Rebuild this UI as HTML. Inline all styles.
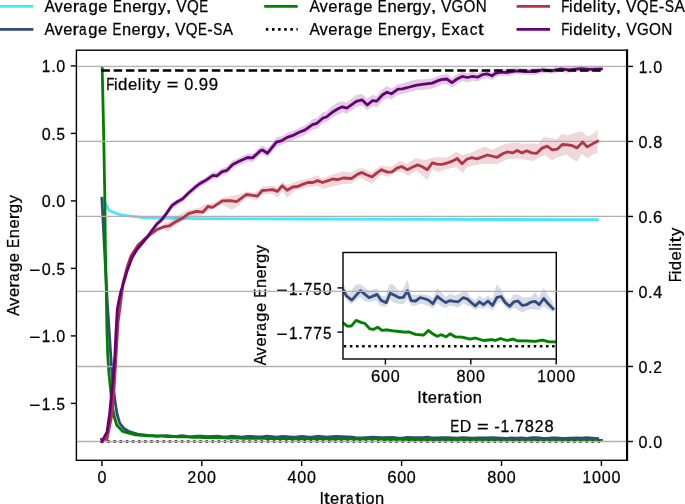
<!DOCTYPE html>
<html><head><meta charset="utf-8"><style>
html,body{margin:0;padding:0;background:#fff;width:685px;height:504px;overflow:hidden}
svg{display:block;will-change:transform}
text{font-family:"Liberation Sans",sans-serif;font-kerning:none;stroke:#000;stroke-width:0.25px}
</style></head><body>
<svg width="685" height="504" viewBox="0 0 685 504">
<rect width="685" height="504" fill="#fff"/>
<line x1="0" y1="6.3" x2="33.4" y2="6.3" stroke="#45e6ff" stroke-width="2.8"/>
<line x1="0" y1="29.4" x2="33.4" y2="29.4" stroke="#324a7d" stroke-width="2.8"/>
<line x1="264.2" y1="6.3" x2="297.7" y2="6.3" stroke="#008000" stroke-width="2.8"/>
<line x1="265.85" y1="29.4" x2="297.7" y2="29.4" stroke="#000" stroke-width="2.6" stroke-dasharray="2.5 3.629"/>
<line x1="516.6" y1="6.3" x2="550.0" y2="6.3" stroke="#b03546" stroke-width="2.8"/>
<line x1="516.6" y1="29.4" x2="550.0" y2="29.4" stroke="#670074" stroke-width="2.8"/>
<g style="font-size:16.31px" fill="#000"><text transform="translate(49.74,12.00) scale(0.951,1)" x="-5.44">A</text><text transform="translate(58.66,12.00) scale(1.018,1)" x="-4.08">v</text><text transform="translate(67.96,12.00) scale(1.019,1)" x="-4.52">e</text><text transform="translate(76.54,12.00) scale(1.209,1)" x="-3.12">r</text><text transform="translate(83.48,12.00) scale(0.849,1)" x="-4.88">a</text><text transform="translate(93.05,12.00) scale(1.026,1)" x="-4.35">g</text><text transform="translate(102.95,12.00) scale(1.019,1)" x="-4.52">e</text><text transform="translate(117.69,12.00) scale(0.818,1)" x="-5.76">E</text><text transform="translate(127.21,12.00) scale(1.018,1)" x="-4.55">n</text><text transform="translate(136.79,12.00) scale(1.019,1)" x="-4.52">e</text><text transform="translate(145.37,12.00) scale(1.209,1)" x="-3.12">r</text><text transform="translate(152.17,12.00) scale(1.026,1)" x="-4.35">g</text><text transform="translate(161.89,12.00) scale(1.013,1)" x="-4.08">y</text><text transform="translate(168.73,12.00) scale(1.376,1)" x="-2.27">,</text><text transform="translate(181.48,12.00) scale(0.958,1)" x="-5.44">V</text><text transform="translate(192.81,12.00) scale(0.933,1)" x="-6.34">Q</text><text transform="translate(203.99,12.00) scale(0.818,1)" x="-5.76">E</text></g>
<g style="font-size:16.18px" fill="#000"><text transform="translate(49.70,35.00) scale(0.951,1)" x="-5.40">A</text><text transform="translate(58.55,35.00) scale(1.018,1)" x="-4.04">v</text><text transform="translate(67.78,35.00) scale(1.019,1)" x="-4.48">e</text><text transform="translate(76.29,35.00) scale(1.209,1)" x="-3.10">r</text><text transform="translate(83.18,35.00) scale(0.849,1)" x="-4.84">a</text><text transform="translate(92.67,35.00) scale(1.026,1)" x="-4.32">g</text><text transform="translate(102.50,35.00) scale(1.019,1)" x="-4.48">e</text><text transform="translate(117.11,35.00) scale(0.818,1)" x="-5.71">E</text><text transform="translate(126.56,35.00) scale(1.018,1)" x="-4.51">n</text><text transform="translate(136.07,35.00) scale(1.019,1)" x="-4.48">e</text><text transform="translate(144.58,35.00) scale(1.209,1)" x="-3.10">r</text><text transform="translate(151.33,35.00) scale(1.026,1)" x="-4.32">g</text><text transform="translate(160.97,35.00) scale(1.013,1)" x="-4.05">y</text><text transform="translate(167.75,35.00) scale(1.376,1)" x="-2.25">,</text><text transform="translate(180.41,35.00) scale(0.958,1)" x="-5.40">V</text><text transform="translate(191.64,35.00) scale(0.933,1)" x="-6.29">Q</text><text transform="translate(202.74,35.00) scale(0.818,1)" x="-5.71">E</text><text transform="translate(210.05,35.00) scale(1.017,1)" x="-2.69">-</text><text transform="translate(217.73,35.00) scale(0.841,1)" x="-5.39">S</text><text transform="translate(228.00,35.00) scale(0.951,1)" x="-5.40">A</text></g>
<g style="font-size:16.29px" fill="#000"><text transform="translate(314.63,12.00) scale(0.951,1)" x="-5.43">A</text><text transform="translate(323.54,12.00) scale(1.018,1)" x="-4.07">v</text><text transform="translate(332.84,12.00) scale(1.019,1)" x="-4.51">e</text><text transform="translate(341.41,12.00) scale(1.209,1)" x="-3.12">r</text><text transform="translate(348.34,12.00) scale(0.849,1)" x="-4.88">a</text><text transform="translate(357.89,12.00) scale(1.026,1)" x="-4.35">g</text><text transform="translate(367.79,12.00) scale(1.019,1)" x="-4.51">e</text><text transform="translate(382.51,12.00) scale(0.818,1)" x="-5.75">E</text><text transform="translate(392.02,12.00) scale(1.018,1)" x="-4.54">n</text><text transform="translate(401.59,12.00) scale(1.019,1)" x="-4.51">e</text><text transform="translate(410.16,12.00) scale(1.209,1)" x="-3.12">r</text><text transform="translate(416.96,12.00) scale(1.026,1)" x="-4.35">g</text><text transform="translate(426.66,12.00) scale(1.013,1)" x="-4.08">y</text><text transform="translate(433.49,12.00) scale(1.376,1)" x="-2.26">,</text><text transform="translate(446.24,12.00) scale(0.958,1)" x="-5.43">V</text><text transform="translate(457.26,12.00) scale(0.920,1)" x="-6.14">G</text><text transform="translate(469.46,12.00) scale(0.933,1)" x="-6.33">O</text><text transform="translate(481.26,12.00) scale(0.932,1)" x="-5.89">N</text></g>
<g style="font-size:16.31px" fill="#000"><text transform="translate(314.64,35.00) scale(0.951,1)" x="-5.44">A</text><text transform="translate(323.57,35.00) scale(1.018,1)" x="-4.08">v</text><text transform="translate(332.87,35.00) scale(1.019,1)" x="-4.52">e</text><text transform="translate(341.46,35.00) scale(1.209,1)" x="-3.12">r</text><text transform="translate(348.41,35.00) scale(0.849,1)" x="-4.88">a</text><text transform="translate(357.97,35.00) scale(1.026,1)" x="-4.35">g</text><text transform="translate(367.88,35.00) scale(1.019,1)" x="-4.52">e</text><text transform="translate(382.63,35.00) scale(0.818,1)" x="-5.76">E</text><text transform="translate(392.15,35.00) scale(1.018,1)" x="-4.55">n</text><text transform="translate(401.74,35.00) scale(1.019,1)" x="-4.52">e</text><text transform="translate(410.32,35.00) scale(1.209,1)" x="-3.12">r</text><text transform="translate(417.13,35.00) scale(1.026,1)" x="-4.35">g</text><text transform="translate(426.85,35.00) scale(1.013,1)" x="-4.08">y</text><text transform="translate(433.69,35.00) scale(1.376,1)" x="-2.27">,</text><text transform="translate(446.32,35.00) scale(0.818,1)" x="-5.76">E</text><text transform="translate(455.45,35.00) scale(1.047,1)" x="-4.08">x</text><text transform="translate(464.51,35.00) scale(0.849,1)" x="-4.88">a</text><text transform="translate(473.65,35.00) scale(0.947,1)" x="-4.21">c</text><text transform="translate(480.97,35.00) scale(1.261,1)" x="-2.33">t</text></g>
<g style="font-size:16.42px" fill="#000"><text transform="translate(565.65,12.00) scale(0.809,1)" x="-5.36">F</text><text transform="translate(570.82,12.00) scale(0.965,1)" x="-1.82">i</text><text transform="translate(577.61,12.00) scale(1.026,1)" x="-4.38">d</text><text transform="translate(587.59,12.00) scale(1.019,1)" x="-4.55">e</text><text transform="translate(594.50,12.00) scale(0.965,1)" x="-1.83">l</text><text transform="translate(598.80,12.00) scale(0.965,1)" x="-1.82">i</text><text transform="translate(604.01,12.00) scale(1.261,1)" x="-2.35">t</text><text transform="translate(611.61,12.00) scale(1.013,1)" x="-4.11">y</text><text transform="translate(618.50,12.00) scale(1.376,1)" x="-2.28">,</text><text transform="translate(631.35,12.00) scale(0.958,1)" x="-5.48">V</text><text transform="translate(642.75,12.00) scale(0.933,1)" x="-6.38">Q</text><text transform="translate(654.01,12.00) scale(0.818,1)" x="-5.80">E</text><text transform="translate(661.44,12.00) scale(1.017,1)" x="-2.73">-</text><text transform="translate(669.23,12.00) scale(0.841,1)" x="-5.47">S</text><text transform="translate(679.65,12.00) scale(0.951,1)" x="-5.48">A</text></g>
<g style="font-size:16.45px" fill="#000"><text transform="translate(565.65,35.00) scale(0.809,1)" x="-5.37">F</text><text transform="translate(570.83,35.00) scale(0.965,1)" x="-1.82">i</text><text transform="translate(577.64,35.00) scale(1.026,1)" x="-4.39">d</text><text transform="translate(587.63,35.00) scale(1.019,1)" x="-4.56">e</text><text transform="translate(594.55,35.00) scale(0.965,1)" x="-1.83">l</text><text transform="translate(598.86,35.00) scale(0.965,1)" x="-1.82">i</text><text transform="translate(604.08,35.00) scale(1.261,1)" x="-2.35">t</text><text transform="translate(611.69,35.00) scale(1.013,1)" x="-4.12">y</text><text transform="translate(618.59,35.00) scale(1.376,1)" x="-2.28">,</text><text transform="translate(631.46,35.00) scale(0.958,1)" x="-5.48">V</text><text transform="translate(642.58,35.00) scale(0.920,1)" x="-6.20">G</text><text transform="translate(654.90,35.00) scale(0.933,1)" x="-6.39">O</text><text transform="translate(666.82,35.00) scale(0.932,1)" x="-5.94">N</text></g>
<path d="M102.30,199.20 L104.50,201.20 L106.10,204.30 L107.50,207.50 L108.80,209.60 L110.80,210.90 L113.10,211.80 L117.50,213.50 L121.90,214.50 L126.30,215.30 L135.00,216.40 L143.80,217.30 L160.00,217.90 L200.00,218.30 L300.00,218.70 L450.00,219.10 L597.40,219.30 L597.40,219.90 L450.00,219.70 L300.00,219.30 L200.00,218.90 L160.00,218.50 L143.80,217.90 L135.00,217.00 L126.30,215.90 L121.90,215.10 L117.50,214.10 L113.10,212.40 L110.80,211.50 L108.80,210.20 L107.50,208.10 L106.10,204.90 L104.50,201.80 L102.30,199.80Z" fill="#45e6ff" fill-opacity="0.2" stroke="none"/>
<path d="M102.30,199.50 L104.50,201.50 L106.10,204.60 L107.50,207.80 L108.80,209.90 L110.80,211.20 L113.10,212.10 L117.50,213.80 L121.90,214.80 L126.30,215.60 L135.00,216.70 L143.80,217.60 L160.00,218.20 L200.00,218.60 L300.00,219.00 L450.00,219.40 L597.40,219.60" fill="none" stroke="#45e6ff" stroke-width="2.8" stroke-linejoin="round" stroke-linecap="square" />
<path d="M101.90,197.90 L106.90,295.60 L111.90,372.60 L113.70,390.30 L116.10,408.20 L117.30,414.60 L119.80,422.90 L124.00,428.10 L129.20,431.30 L137.50,433.80 L147.90,435.00 L152.00,435.29 L157.00,435.91 L162.00,435.57 L167.00,435.18 L172.00,436.09 L177.00,435.98 L182.00,435.29 L187.00,435.95 L192.00,436.24 L197.00,435.71 L202.00,435.63 L207.00,436.36 L212.00,436.12 L217.00,435.78 L222.00,436.24 L227.00,436.42 L232.00,435.85 L237.00,436.23 L242.00,436.71 L247.00,436.09 L252.00,436.03 L257.00,436.48 L262.00,436.60 L267.00,435.80 L272.00,436.26 L277.00,436.63 L282.00,436.00 L287.00,436.18 L292.00,436.68 L297.00,436.42 L302.00,435.97 L307.00,436.55 L312.00,436.72 L317.00,435.87 L322.00,436.15 L327.00,436.76 L332.00,436.32 L337.00,436.01 L352.70,436.73 L355.63,437.14 L362.30,437.48 L372.36,436.76 L382.42,437.30 L392.01,437.05 L396.69,437.51 L402.54,437.67 L407.21,436.95 L414.00,437.18 L417.86,437.30 L422.66,437.27 L427.34,436.77 L431.66,437.52 L436.93,437.55 L442.19,437.30 L446.99,437.36 L452.25,437.49 L457.05,437.76 L462.31,437.21 L467.58,437.46 L472.37,437.67 L477.17,437.52 L481.96,437.58 L486.76,437.61 L492.49,437.30 L497.29,437.39 L502.08,437.67 L506.76,437.92 L511.56,437.61 L516.36,437.83 L521.62,437.55 L526.88,437.89 L532.15,437.27 L536.94,437.21 L541.86,437.67 L547.12,437.96 L551.92,437.61 L556.60,437.55 L561.86,437.89 L566.66,437.83 L571.45,437.64 L576.72,437.58 L581.51,437.83 L586.78,437.36 L592.04,437.76 L597.77,438.15 L597.77,438.95 L592.04,438.56 L586.78,438.16 L581.51,438.63 L576.72,438.38 L571.45,438.44 L566.66,438.63 L561.86,438.69 L556.60,438.35 L551.92,438.41 L547.12,438.76 L541.86,438.47 L536.94,438.01 L532.15,438.07 L526.88,438.69 L521.62,438.35 L516.36,438.63 L511.56,438.41 L506.76,438.72 L502.08,438.47 L497.29,438.19 L492.49,438.10 L486.76,438.41 L481.96,438.38 L477.17,438.32 L472.37,438.47 L467.58,438.26 L462.31,438.01 L457.05,438.56 L452.25,438.29 L446.99,438.16 L442.19,438.10 L436.93,438.35 L431.66,438.32 L427.34,437.57 L422.66,438.07 L417.86,438.10 L414.00,437.98 L407.21,437.75 L402.54,438.47 L396.69,438.31 L392.01,437.85 L382.42,438.10 L372.36,437.56 L362.30,438.28 L355.63,437.94 L352.70,437.53 L337.00,436.81 L332.00,437.12 L327.00,437.56 L322.00,436.95 L317.00,436.67 L312.00,437.52 L307.00,437.35 L302.00,436.77 L297.00,437.22 L292.00,437.48 L287.00,436.98 L282.00,436.80 L277.00,437.43 L272.00,437.06 L267.00,436.60 L262.00,437.40 L257.00,437.28 L252.00,436.83 L247.00,436.89 L242.00,437.51 L237.00,437.03 L232.00,436.65 L227.00,437.22 L222.00,437.04 L217.00,436.58 L212.00,436.92 L207.00,437.16 L202.00,436.43 L197.00,436.51 L192.00,437.04 L187.00,436.75 L182.00,436.09 L177.00,436.78 L172.00,436.89 L167.00,435.98 L162.00,436.37 L157.00,436.71 L152.00,436.09 L147.90,435.80 L137.50,434.60 L129.20,432.10 L124.00,428.90 L119.80,423.70 L117.30,415.40 L116.10,409.00 L113.70,391.10 L111.90,373.40 L106.90,296.40 L101.90,198.70Z" fill="#324a7d" fill-opacity="0.2" stroke="none"/>
<path d="M101.90,198.30 L106.90,296.00 L111.90,373.00 L113.70,390.70 L116.10,408.60 L117.30,415.00 L119.80,423.30 L124.00,428.50 L129.20,431.70 L137.50,434.20 L147.90,435.40 L152.00,435.69 L157.00,436.31 L162.00,435.97 L167.00,435.58 L172.00,436.49 L177.00,436.38 L182.00,435.69 L187.00,436.35 L192.00,436.64 L197.00,436.11 L202.00,436.03 L207.00,436.76 L212.00,436.52 L217.00,436.18 L222.00,436.64 L227.00,436.82 L232.00,436.25 L237.00,436.63 L242.00,437.11 L247.00,436.49 L252.00,436.43 L257.00,436.88 L262.00,437.00 L267.00,436.20 L272.00,436.66 L277.00,437.03 L282.00,436.40 L287.00,436.58 L292.00,437.08 L297.00,436.82 L302.00,436.37 L307.00,436.95 L312.00,437.12 L317.00,436.27 L322.00,436.55 L327.00,437.16 L332.00,436.72 L337.00,436.41 L352.70,437.13 L355.63,437.54 L362.30,437.88 L372.36,437.16 L382.42,437.70 L392.01,437.45 L396.69,437.91 L402.54,438.07 L407.21,437.35 L414.00,437.58 L417.86,437.70 L422.66,437.67 L427.34,437.17 L431.66,437.92 L436.93,437.95 L442.19,437.70 L446.99,437.76 L452.25,437.89 L457.05,438.16 L462.31,437.61 L467.58,437.86 L472.37,438.07 L477.17,437.92 L481.96,437.98 L486.76,438.01 L492.49,437.70 L497.29,437.79 L502.08,438.07 L506.76,438.32 L511.56,438.01 L516.36,438.23 L521.62,437.95 L526.88,438.29 L532.15,437.67 L536.94,437.61 L541.86,438.07 L547.12,438.36 L551.92,438.01 L556.60,437.95 L561.86,438.29 L566.66,438.23 L571.45,438.04 L576.72,437.98 L581.51,438.23 L586.78,437.76 L592.04,438.16 L597.77,438.55" fill="none" stroke="#324a7d" stroke-width="2.8" stroke-linejoin="round" stroke-linecap="square" />
<path d="M102.20,68.20 L103.50,125.70 L104.70,189.70 L105.40,249.70 L106.30,289.70 L106.90,329.50 L107.70,354.70 L108.90,372.60 L110.70,390.40 L112.20,405.70 L114.50,417.20 L116.70,424.70 L122.50,431.00 L128.00,432.60 L135.40,434.50 L147.90,435.50 L152.00,435.53 L157.00,435.62 L162.00,435.66 L167.00,436.25 L172.00,435.96 L177.00,436.49 L182.00,436.55 L187.00,436.50 L192.00,437.06 L197.00,436.72 L202.00,437.18 L207.00,437.23 L212.00,437.11 L217.00,437.65 L222.00,437.28 L227.00,437.68 L232.00,437.73 L237.00,437.56 L242.00,438.08 L247.00,437.69 L252.00,438.05 L257.00,438.10 L262.00,437.88 L267.00,438.39 L272.00,438.00 L277.00,438.31 L282.00,438.38 L287.00,438.12 L292.00,438.62 L297.00,438.22 L302.00,438.50 L307.00,438.59 L312.00,438.29 L317.00,438.79 L322.00,438.39 L327.00,438.63 L332.00,438.74 L337.00,438.41 L352.59,438.60 L356.91,438.82 L361.59,438.82 L367.33,438.38 L372.94,438.53 L377.62,438.62 L383.23,439.02 L387.91,439.06 L392.59,438.90 L397.39,439.15 L403.00,439.11 L410.49,439.18 L417.98,439.23 L423.59,439.28 L429.32,439.27 L436.81,439.45 L446.17,439.51 L451.78,439.15 L457.40,439.43 L462.20,439.60 L466.87,439.47 L472.49,439.63 L477.17,439.40 L483.13,439.63 L490.97,439.66 L500.80,439.81 L506.65,439.73 L516.47,439.92 L526.30,439.85 L530.28,439.92 L536.13,439.76 L543.96,439.92 L550.87,439.81 L555.78,439.94 L565.60,439.94 L577.30,439.98 L585.26,439.89 L593.09,440.02 L601.52,440.02 L601.52,440.62 L593.09,440.62 L585.26,440.49 L577.30,440.58 L565.60,440.54 L555.78,440.54 L550.87,440.41 L543.96,440.52 L536.13,440.36 L530.28,440.52 L526.30,440.45 L516.47,440.52 L506.65,440.33 L500.80,440.41 L490.97,440.26 L483.13,440.23 L477.17,440.00 L472.49,440.23 L466.87,440.07 L462.20,440.20 L457.40,440.03 L451.78,439.75 L446.17,440.11 L436.81,440.05 L429.32,439.87 L423.59,439.88 L417.98,439.83 L410.49,439.78 L403.00,439.71 L397.39,439.75 L392.59,439.50 L387.91,439.66 L383.23,439.62 L377.62,439.22 L372.94,439.13 L367.33,438.98 L361.59,439.42 L356.91,439.42 L352.59,439.20 L337.00,439.01 L332.00,439.34 L327.00,439.23 L322.00,438.99 L317.00,439.39 L312.00,438.89 L307.00,439.19 L302.00,439.10 L297.00,438.82 L292.00,439.22 L287.00,438.72 L282.00,438.98 L277.00,438.91 L272.00,438.60 L267.00,438.99 L262.00,438.48 L257.00,438.70 L252.00,438.65 L247.00,438.29 L242.00,438.68 L237.00,438.16 L232.00,438.33 L227.00,438.28 L222.00,437.88 L217.00,438.25 L212.00,437.71 L207.00,437.83 L202.00,437.78 L197.00,437.32 L192.00,437.66 L187.00,437.10 L182.00,437.15 L177.00,437.09 L172.00,436.56 L167.00,436.85 L162.00,436.26 L157.00,436.22 L152.00,436.13 L147.90,436.10 L135.40,435.10 L128.00,433.20 L122.50,431.60 L116.70,425.30 L114.50,417.80 L112.20,406.30 L110.70,391.00 L108.90,373.20 L107.70,355.30 L106.90,330.10 L106.30,290.30 L105.40,250.30 L104.70,190.30 L103.50,126.30 L102.20,68.80Z" fill="#008000" fill-opacity="0.2" stroke="none"/>
<path d="M102.20,68.50 L103.50,126.00 L104.70,190.00 L105.40,250.00 L106.30,290.00 L106.90,329.80 L107.70,355.00 L108.90,372.90 L110.70,390.70 L112.20,406.00 L114.50,417.50 L116.70,425.00 L122.50,431.30 L128.00,432.90 L135.40,434.80 L147.90,435.80 L152.00,435.83 L157.00,435.92 L162.00,435.96 L167.00,436.55 L172.00,436.26 L177.00,436.79 L182.00,436.85 L187.00,436.80 L192.00,437.36 L197.00,437.02 L202.00,437.48 L207.00,437.53 L212.00,437.41 L217.00,437.95 L222.00,437.58 L227.00,437.98 L232.00,438.03 L237.00,437.86 L242.00,438.38 L247.00,437.99 L252.00,438.35 L257.00,438.40 L262.00,438.18 L267.00,438.69 L272.00,438.30 L277.00,438.61 L282.00,438.68 L287.00,438.42 L292.00,438.92 L297.00,438.52 L302.00,438.80 L307.00,438.89 L312.00,438.59 L317.00,439.09 L322.00,438.69 L327.00,438.93 L332.00,439.04 L337.00,438.71 L352.59,438.90 L356.91,439.12 L361.59,439.12 L367.33,438.68 L372.94,438.83 L377.62,438.92 L383.23,439.32 L387.91,439.36 L392.59,439.20 L397.39,439.45 L403.00,439.41 L410.49,439.48 L417.98,439.53 L423.59,439.58 L429.32,439.57 L436.81,439.75 L446.17,439.81 L451.78,439.45 L457.40,439.73 L462.20,439.90 L466.87,439.77 L472.49,439.93 L477.17,439.70 L483.13,439.93 L490.97,439.96 L500.80,440.11 L506.65,440.03 L516.47,440.22 L526.30,440.15 L530.28,440.22 L536.13,440.06 L543.96,440.22 L550.87,440.11 L555.78,440.24 L565.60,440.24 L577.30,440.28 L585.26,440.19 L593.09,440.32 L601.52,440.32" fill="none" stroke="#008000" stroke-width="2.8" stroke-linejoin="round" stroke-linecap="square" />
<line x1="101.22" y1="441.5" x2="600.2" y2="441.5" stroke="#000" stroke-width="2.6" stroke-dasharray="2.5 3.629"/>
<g style="font-size:16.38px" fill="#000"><text transform="translate(110.64,90.20) scale(0.809,1)" x="-5.35">F</text><text transform="translate(115.80,90.20) scale(0.965,1)" x="-1.82">i</text><text transform="translate(122.58,90.20) scale(1.026,1)" x="-4.37">d</text><text transform="translate(132.53,90.20) scale(1.019,1)" x="-4.54">e</text><text transform="translate(139.43,90.20) scale(0.965,1)" x="-1.82">l</text><text transform="translate(143.72,90.20) scale(0.965,1)" x="-1.82">i</text><text transform="translate(148.92,90.20) scale(1.261,1)" x="-2.34">t</text><text transform="translate(156.50,90.20) scale(1.013,1)" x="-4.10">y</text><text transform="translate(172.47,90.20) scale(1.216,1)" x="-4.78">=</text><text transform="translate(188.78,90.20) scale(0.995,1)" x="-4.56">0</text><text transform="translate(196.15,90.20) scale(1.021,1)" x="-2.28">.</text><text transform="translate(203.47,90.20) scale(1.028,1)" x="-4.55">9</text><text transform="translate(213.31,90.20) scale(1.028,1)" x="-4.55">9</text></g>
<g style="font-size:16.41px" fill="#000"><text transform="translate(454.94,432.40) scale(0.818,1)" x="-5.79">E</text><text transform="translate(465.83,432.40) scale(0.976,1)" x="-6.20">D</text><text transform="translate(482.89,432.40) scale(1.216,1)" x="-4.79">=</text><text transform="translate(497.09,432.40) scale(1.017,1)" x="-2.73">-</text><text transform="translate(504.95,432.40) scale(0.950,1)" x="-4.79">1</text><text transform="translate(512.19,432.40) scale(1.021,1)" x="-2.28">.</text><text transform="translate(519.56,432.40) scale(0.973,1)" x="-4.57">7</text><text transform="translate(529.43,432.40) scale(1.006,1)" x="-4.56">8</text><text transform="translate(539.08,432.40) scale(0.959,1)" x="-4.56">2</text><text transform="translate(549.13,432.40) scale(1.006,1)" x="-4.56">8</text></g>
<defs><clipPath id="ic"><rect x="343.0" y="252.5" width="213.29999999999995" height="106.5"/></clipPath></defs>
<g clip-path="url(#ic)">
<path d="M338.00,282.50 L343.60,283.40 L346.90,292.40 L350.20,293.60 L353.40,287.40 L355.90,284.20 L360.80,284.20 L365.70,288.30 L369.80,290.70 L373.10,289.50 L377.20,288.30 L380.40,295.60 L385.30,296.40 L389.40,284.60 L392.70,284.20 L396.00,287.50 L399.30,292.80 L403.40,288.70 L407.40,279.30 L411.10,294.40 L415.60,295.30 L420.50,294.00 L424.60,294.40 L428.70,295.30 L432.80,297.70 L437.30,287.90 L441.80,292.80 L445.90,296.90 L450.00,293.40 L454.90,295.70 L459.80,293.60 L463.90,291.60 L467.20,292.00 L470.40,296.90 L475.30,300.20 L479.40,295.30 L483.50,298.50 L488.00,295.70 L492.50,298.50 L497.00,283.80 L501.10,289.50 L505.30,297.70 L509.80,301.00 L513.40,294.40 L518.40,294.40 L523.30,297.70 L530.60,296.90 L535.10,292.00 L538.80,297.70 L543.70,287.50 L547.80,295.30 L553.10,301.80 L553.10,312.40 L543.70,306.30 L539.20,310.00 L530.60,308.80 L522.40,312.40 L513.90,307.50 L509.80,310.40 L505.80,307.50 L501.10,301.80 L497.00,303.40 L492.50,310.80 L488.00,306.70 L483.50,308.80 L479.40,307.50 L475.30,310.00 L470.40,306.70 L463.10,303.40 L458.20,307.50 L450.00,305.50 L445.90,307.90 L441.80,306.70 L437.30,303.40 L432.80,308.70 L428.70,305.90 L420.50,303.40 L415.60,305.90 L411.10,305.50 L407.40,298.50 L403.40,304.30 L398.00,303.80 L394.30,303.00 L390.20,299.70 L386.20,306.70 L380.40,306.30 L376.30,300.50 L369.00,302.20 L364.90,301.30 L360.40,297.30 L355.10,301.30 L351.00,304.20 L346.90,300.50 L343.60,293.20 L338.00,292.50Z" fill="#324a7d" fill-opacity="0.2" stroke="none"/>
<path d="M338.00,289.50 L343.60,290.30 L346.10,295.60 L351.80,300.10 L360.40,290.60 L369.00,297.70 L377.20,294.40 L381.20,300.50 L386.20,302.60 L390.20,293.20 L396.00,296.10 L399.30,297.70 L403.40,297.30 L407.40,290.80 L411.10,300.60 L415.60,301.00 L420.10,297.70 L424.20,298.50 L428.70,300.20 L432.80,303.80 L437.30,296.50 L441.80,299.80 L445.90,302.60 L450.00,300.60 L454.10,301.40 L458.20,301.80 L463.10,297.70 L467.20,298.90 L471.30,302.60 L475.30,305.90 L479.40,301.80 L483.50,304.70 L488.00,301.00 L492.50,305.50 L497.00,297.30 L501.10,296.50 L505.30,302.60 L509.80,306.30 L513.90,301.80 L517.90,301.00 L522.40,305.50 L526.50,304.70 L530.60,302.20 L535.10,301.40 L539.20,304.70 L543.70,298.50 L548.20,303.80 L553.10,308.80" fill="none" stroke="#324a7d" stroke-width="2.8" stroke-linejoin="round" stroke-linecap="square" />
<path d="M340.00,321.90 L343.50,321.60 L347.20,324.50 L351.20,324.50 L356.10,318.80 L360.90,320.80 L364.90,321.90 L369.70,327.20 L373.70,327.70 L377.70,325.60 L381.80,328.80 L386.60,328.30 L393.00,329.30 L399.40,329.90 L404.20,330.60 L409.10,330.40 L415.50,332.80 L423.50,333.60 L428.30,328.80 L433.10,332.50 L437.20,334.70 L441.20,333.10 L446.00,335.20 L450.00,332.20 L455.10,335.20 L461.80,335.50 L470.20,337.50 L475.20,336.40 L483.60,338.90 L492.00,338.00 L495.40,338.90 L500.40,336.90 L507.10,338.90 L513.00,337.50 L517.20,339.20 L525.60,339.20 L535.60,339.70 L542.40,338.50 L549.10,340.20 L556.30,340.20 L556.30,343.20 L549.10,343.20 L542.40,341.50 L535.60,342.70 L525.60,342.20 L517.20,342.20 L513.00,340.50 L507.10,341.90 L500.40,339.90 L495.40,341.90 L492.00,341.00 L483.60,341.90 L475.20,339.40 L470.20,340.50 L461.80,338.50 L455.10,338.20 L450.00,335.20 L446.00,338.20 L441.20,336.10 L437.20,337.70 L433.10,335.50 L428.30,331.80 L423.50,336.60 L415.50,335.80 L409.10,333.40 L404.20,333.60 L399.40,332.90 L393.00,332.30 L386.60,331.30 L381.80,331.80 L377.70,328.60 L373.70,330.70 L369.70,330.20 L364.90,324.90 L360.90,323.80 L356.10,321.80 L351.20,327.50 L347.20,327.50 L343.50,324.60 L340.00,324.90Z" fill="#008000" fill-opacity="0.2" stroke="none"/>
<path d="M340.00,323.50 L343.50,323.20 L347.20,326.10 L351.20,326.10 L356.10,320.40 L360.90,322.40 L364.90,323.50 L369.70,328.80 L373.70,329.30 L377.70,327.20 L381.80,330.40 L386.60,329.90 L393.00,330.90 L399.40,331.50 L404.20,332.20 L409.10,332.00 L415.50,334.40 L423.50,335.20 L428.30,330.40 L433.10,334.10 L437.20,336.30 L441.20,334.70 L446.00,336.80 L450.00,333.80 L455.10,336.80 L461.80,337.10 L470.20,339.10 L475.20,338.00 L483.60,340.50 L492.00,339.60 L495.40,340.50 L500.40,338.50 L507.10,340.50 L513.00,339.10 L517.20,340.80 L525.60,340.80 L535.60,341.30 L542.40,340.10 L549.10,341.80 L556.30,341.80" fill="none" stroke="#008000" stroke-width="2.8" stroke-linejoin="round" stroke-linecap="square" />
<line x1="337.62" y1="346.3" x2="556.3" y2="346.3" stroke="#000" stroke-width="2.6" stroke-dasharray="2.5 3.629"/>
</g>
<rect x="343.0" y="252.5" width="213.29999999999995" height="106.5" fill="none" stroke="#000" stroke-width="1.4"/>
<line x1="337.40" y1="287.90" x2="343.0" y2="287.90" stroke="#000" stroke-width="1.4"/>
<rect x="277.20" y="289.57" width="9.58" height="1.42" fill="#000"/>
<g style="font-size:16.21px" fill="#000"><text transform="translate(293.40,295.00) scale(0.950,1)" x="-4.73">1</text><text transform="translate(300.56,295.00) scale(1.021,1)" x="-2.25">.</text><text transform="translate(307.84,295.00) scale(0.973,1)" x="-4.52">7</text><text transform="translate(317.52,295.00) scale(0.939,1)" x="-4.49">5</text><text transform="translate(327.33,295.00) scale(0.995,1)" x="-4.51">0</text></g>
<line x1="337.40" y1="332.10" x2="343.0" y2="332.10" stroke="#000" stroke-width="1.4"/>
<rect x="277.20" y="333.57" width="9.58" height="1.42" fill="#000"/>
<g style="font-size:16.21px" fill="#000"><text transform="translate(293.40,339.00) scale(0.950,1)" x="-4.73">1</text><text transform="translate(300.56,339.00) scale(1.021,1)" x="-2.25">.</text><text transform="translate(307.84,339.00) scale(0.973,1)" x="-4.52">7</text><text transform="translate(317.57,339.00) scale(0.973,1)" x="-4.52">7</text><text transform="translate(327.25,339.00) scale(0.939,1)" x="-4.49">5</text></g>
<line x1="385.40" y1="359.0" x2="385.40" y2="364.60" stroke="#000" stroke-width="1.4"/>
<g style="font-size:16.21px" fill="#000"><text transform="translate(375.72,381.60) scale(1.030,1)" x="-4.56">6</text><text transform="translate(385.40,381.60) scale(0.995,1)" x="-4.51">0</text><text transform="translate(395.13,381.60) scale(0.995,1)" x="-4.51">0</text></g>
<line x1="470.80" y1="359.0" x2="470.80" y2="364.60" stroke="#000" stroke-width="1.4"/>
<g style="font-size:16.21px" fill="#000"><text transform="translate(461.06,381.60) scale(1.006,1)" x="-4.51">8</text><text transform="translate(470.80,381.60) scale(0.995,1)" x="-4.51">0</text><text transform="translate(480.53,381.60) scale(0.995,1)" x="-4.51">0</text></g>
<line x1="556.20" y1="359.0" x2="556.20" y2="364.60" stroke="#000" stroke-width="1.4"/>
<g style="font-size:16.21px" fill="#000"><text transform="translate(541.73,381.60) scale(0.950,1)" x="-4.73">1</text><text transform="translate(551.33,381.60) scale(0.995,1)" x="-4.51">0</text><text transform="translate(561.06,381.60) scale(0.995,1)" x="-4.51">0</text><text transform="translate(570.80,381.60) scale(0.995,1)" x="-4.51">0</text></g>
<g style="font-size:16.21px" fill="#000"><text transform="translate(419.46,402.80) scale(0.998,1)" x="-2.25">I</text><text transform="translate(424.74,402.80) scale(1.261,1)" x="-2.32">t</text><text transform="translate(432.43,402.80) scale(1.019,1)" x="-4.49">e</text><text transform="translate(440.97,402.80) scale(1.209,1)" x="-3.10">r</text><text transform="translate(447.87,402.80) scale(0.849,1)" x="-4.85">a</text><text transform="translate(455.81,402.80) scale(1.261,1)" x="-2.32">t</text><text transform="translate(460.92,402.80) scale(0.965,1)" x="-1.80">i</text><text transform="translate(467.73,402.80) scale(1.003,1)" x="-4.51">o</text><text transform="translate(477.30,402.80) scale(1.018,1)" x="-4.52">n</text></g>
<g style="font-size:16.15px" fill="#000"><text transform="translate(266.10,0) rotate(-90) translate(-360.11,0) scale(0.951,1)" x="-5.39">A</text><text transform="translate(266.10,0) rotate(-90) translate(-351.28,0) scale(1.018,1)" x="-4.04">v</text><text transform="translate(266.10,0) rotate(-90) translate(-342.07,0) scale(1.019,1)" x="-4.47">e</text><text transform="translate(266.10,0) rotate(-90) translate(-333.57,0) scale(1.209,1)" x="-3.09">r</text><text transform="translate(266.10,0) rotate(-90) translate(-326.69,0) scale(0.849,1)" x="-4.83">a</text><text transform="translate(266.10,0) rotate(-90) translate(-317.22,0) scale(1.026,1)" x="-4.31">g</text><text transform="translate(266.10,0) rotate(-90) translate(-307.41,0) scale(1.019,1)" x="-4.47">e</text><text transform="translate(266.10,0) rotate(-90) translate(-292.82,0) scale(0.818,1)" x="-5.70">E</text><text transform="translate(266.10,0) rotate(-90) translate(-283.39,0) scale(1.018,1)" x="-4.50">n</text><text transform="translate(266.10,0) rotate(-90) translate(-273.91,0) scale(1.019,1)" x="-4.47">e</text><text transform="translate(266.10,0) rotate(-90) translate(-265.41,0) scale(1.209,1)" x="-3.09">r</text><text transform="translate(266.10,0) rotate(-90) translate(-258.67,0) scale(1.026,1)" x="-4.31">g</text><text transform="translate(266.10,0) rotate(-90) translate(-249.06,0) scale(1.013,1)" x="-4.04">y</text></g>
<path d="M101.00,438.00 L107.00,438.00 L112.00,413.00 L116.00,353.00 L121.00,296.00 L127.00,266.00 L137.90,243.50 L150.00,232.50 L162.80,224.20 L169.30,220.90 L182.10,212.90 L188.50,209.70 L198.20,208.10 L206.20,204.10 L214.20,202.50 L222.30,198.00 L230.30,196.10 L238.30,194.80 L246.40,191.60 L254.40,192.80 L258.00,190.50 L262.20,186.50 L272.70,185.70 L277.50,187.30 L282.30,181.70 L287.10,184.90 L293.50,182.50 L303.20,179.60 L311.20,177.70 L317.60,175.30 L322.40,178.50 L330.50,175.30 L343.30,171.60 L351.40,172.80 L357.80,168.80 L362.00,168.00 L366.40,169.70 L372.00,172.10 L380.90,165.40 L387.30,166.50 L392.10,166.50 L400.10,160.90 L406.60,164.10 L416.20,158.00 L424.20,160.10 L432.30,157.70 L438.70,156.90 L446.70,157.70 L456.40,151.60 L462.80,155.30 L466.00,154.00 L473.00,152.10 L484.30,146.50 L492.30,149.70 L505.10,143.80 L516.40,142.50 L522.80,143.80 L532.40,143.30 L538.10,144.10 L543.70,136.90 L548.00,137.50 L551.70,138.30 L556.90,139.20 L561.70,133.80 L567.60,135.60 L577.10,132.00 L581.90,131.40 L587.30,136.20 L592.00,135.00 L597.60,129.60 L597.60,152.90 L592.60,154.60 L587.30,158.20 L581.90,154.00 L577.10,161.40 L573.60,160.00 L566.40,154.60 L556.90,157.60 L552.10,160.60 L545.00,155.20 L540.50,156.90 L532.40,160.90 L518.00,158.50 L506.80,159.30 L497.10,164.20 L484.30,163.70 L474.60,165.00 L466.00,168.00 L462.80,172.90 L456.40,167.30 L446.70,168.90 L437.90,172.10 L432.30,168.90 L427.40,180.10 L416.20,170.50 L408.20,175.70 L401.80,172.10 L395.30,172.10 L387.30,176.90 L380.90,174.50 L372.00,183.70 L366.40,180.90 L362.00,178.50 L357.80,178.50 L351.40,183.80 L343.30,184.10 L335.30,185.70 L322.40,188.90 L317.60,185.70 L308.00,187.30 L295.10,190.50 L287.10,197.70 L282.30,191.30 L277.50,197.70 L272.70,193.70 L262.20,194.50 L257.00,200.10 L252.80,199.30 L246.40,197.70 L238.30,205.70 L231.90,209.70 L220.70,204.10 L207.80,211.30 L201.40,215.30 L188.50,217.30 L174.10,226.60 L167.70,231.40 L162.80,228.20 L150.00,237.00 L138.00,247.50 L127.50,270.50 L122.00,300.00 L116.50,357.00 L112.00,417.00 L107.00,441.00 L101.00,441.00Z" fill="#b03546" fill-opacity="0.2" stroke="none"/>
<path d="M101.90,440.78 L107.00,430.90 L109.50,413.99 L111.30,395.76 L113.10,377.82 L114.90,353.98 L116.10,329.01 L117.30,308.18 L119.10,298.56 L120.90,290.02 L123.90,280.56 L127.40,268.43 L131.90,256.28 L136.90,247.24 L141.90,241.02 L146.90,235.10 L151.90,227.40 L156.90,220.85 L161.80,216.67 L166.50,210.33 L172.10,202.54 L177.70,198.67 L182.40,195.89 L188.80,189.72 L195.20,184.06 L200.00,180.28 L205.00,177.67 L212.90,171.87 L216.90,172.24 L221.80,167.89 L226.80,166.66 L232.70,160.60 L239.70,157.22 L247.60,153.40 L252.60,153.89 L260.50,146.62 L262.50,145.38 L267.50,148.50 L276.40,137.38 L281.30,136.21 L287.30,132.87 L292.30,131.28 L299.20,127.71 L305.20,125.37 L312.50,119.25 L316.90,118.10 L322.70,112.34 L326.40,111.53 L332.20,106.01 L338.10,102.34 L342.40,101.42 L346.80,102.60 L356.30,95.05 L362.20,94.12 L367.30,98.67 L372.40,95.09 L376.80,95.89 L382.60,89.01 L387.00,86.28 L391.40,88.48 L397.90,84.14 L402.30,83.61 L409.60,81.09 L416.90,79.49 L424.20,79.24 L432.20,78.18 L438.80,75.70 L442.40,74.67 L446.80,73.67 L451.90,77.97 L457.00,74.12 L462.20,71.76 L467.30,73.23 L472.40,71.77 L477.50,73.22 L482.60,70.32 L487.00,70.16 L492.10,71.94 L495.30,69.79 L500.50,68.67 L507.50,68.65 L516.30,67.30 L525.00,68.57 L535.50,68.32 L542.60,67.10 L551.30,67.97 L560.00,66.00 L568.80,67.11 L581.00,66.32 L589.90,66.65 L601.40,66.74 L601.40,71.34 L589.90,71.96 L581.00,71.33 L568.80,72.81 L560.00,71.96 L551.30,73.64 L542.60,73.09 L535.50,74.89 L525.00,74.87 L516.30,74.00 L507.50,76.31 L500.50,76.12 L495.30,77.39 L492.10,79.90 L487.00,78.27 L482.60,78.96 L477.50,81.53 L472.40,80.45 L467.30,82.51 L462.20,80.92 L457.00,84.04 L451.90,87.53 L446.80,84.17 L442.40,83.89 L438.80,85.99 L432.20,88.49 L424.20,89.79 L416.90,89.92 L409.60,91.90 L402.30,93.98 L397.90,94.81 L391.40,99.58 L387.00,97.98 L382.60,100.99 L376.80,107.24 L372.40,106.27 L367.30,110.35 L362.20,105.80 L356.30,107.11 L346.80,113.76 L342.40,112.25 L338.10,114.58 L332.20,117.80 L326.40,122.05 L322.70,123.36 L316.90,129.05 L312.50,129.65 L305.20,134.97 L299.20,137.42 L292.30,140.43 L287.30,141.65 L281.30,145.01 L276.40,146.72 L267.50,157.20 L262.50,154.03 L260.50,154.85 L252.60,162.20 L247.60,161.28 L239.70,165.14 L232.70,168.09 L226.80,174.47 L221.80,175.12 L216.90,179.12 L212.90,178.90 L205.00,184.33 L200.00,187.16 L195.20,190.84 L188.80,195.77 L182.40,202.57 L177.70,204.78 L172.10,208.28 L166.50,216.25 L161.80,222.83 L156.90,227.12 L151.90,233.13 L146.90,239.97 L141.90,246.06 L136.90,251.66 L131.90,259.86 L127.40,271.79 L123.90,283.34 L120.90,292.67 L119.10,301.04 L117.30,310.36 L116.10,331.07 L114.90,355.92 L113.10,379.69 L111.30,397.61 L109.50,415.89 L107.00,432.74 L101.90,442.39Z" fill="#670074" fill-opacity="0.2" stroke="none"/>
<line x1="76.4" y1="441.50" x2="627.4" y2="441.50" stroke="#b0b0b0" stroke-width="1.3"/>
<line x1="76.4" y1="366.48" x2="627.4" y2="366.48" stroke="#b0b0b0" stroke-width="1.3"/>
<line x1="76.4" y1="291.46" x2="627.4" y2="291.46" stroke="#b0b0b0" stroke-width="1.3"/>
<line x1="76.4" y1="216.44" x2="627.4" y2="216.44" stroke="#b0b0b0" stroke-width="1.3"/>
<line x1="76.4" y1="141.42" x2="627.4" y2="141.42" stroke="#b0b0b0" stroke-width="1.3"/>
<line x1="76.4" y1="66.40" x2="627.4" y2="66.40" stroke="#b0b0b0" stroke-width="1.3"/>
<path d="M101.40,439.20 L106.90,439.30 L111.90,415.00 L114.30,384.80 L116.10,355.00 L118.00,322.00 L121.20,298.00 L123.00,283.00 L126.90,268.00 L130.80,256.30 L137.90,245.20 L145.90,237.80 L150.00,234.60 L156.40,229.80 L164.50,226.60 L169.30,225.80 L175.70,221.80 L182.10,218.50 L188.50,213.70 L196.60,211.30 L203.00,212.10 L207.80,206.50 L212.60,207.30 L222.30,200.90 L230.30,200.60 L236.70,201.70 L246.40,194.50 L252.80,195.30 L257.40,196.10 L262.20,190.50 L267.00,190.20 L272.70,189.70 L277.50,191.30 L282.30,185.70 L287.10,190.20 L292.70,187.00 L297.60,186.50 L303.20,184.10 L308.00,182.50 L312.80,182.50 L317.60,180.60 L322.40,182.50 L327.30,180.90 L332.90,179.00 L337.70,179.60 L343.30,178.00 L351.40,178.50 L357.80,174.10 L361.80,172.50 L367.00,175.00 L372.00,176.90 L376.90,172.90 L381.70,169.70 L387.30,172.10 L392.10,171.80 L396.90,168.10 L401.80,166.50 L407.40,169.70 L412.20,167.30 L417.80,164.90 L421.80,166.50 L427.40,169.70 L432.30,162.80 L437.10,164.10 L441.90,164.40 L447.50,162.80 L452.30,161.20 L457.20,158.50 L462.00,163.80 L466.80,159.30 L471.40,157.70 L477.00,158.90 L487.50,155.00 L497.10,157.30 L502.70,153.70 L507.60,151.80 L512.40,152.90 L517.20,150.50 L522.00,152.90 L526.80,150.80 L531.60,152.90 L536.50,153.40 L542.10,148.10 L547.20,146.10 L552.30,149.80 L557.10,149.20 L562.30,144.50 L567.60,144.80 L572.40,145.70 L577.10,147.90 L582.50,142.10 L587.30,146.90 L592.60,143.90 L597.60,141.20" fill="none" stroke="#b03546" stroke-width="2.8" stroke-linejoin="round" stroke-linecap="square" />
<path d="M101.90,441.60 L107.00,431.80 L109.50,415.00 L111.30,396.70 L113.10,378.80 L114.90,355.00 L116.10,330.00 L117.30,309.30 L119.10,299.80 L120.90,291.40 L123.90,281.90 L127.40,270.00 L131.90,258.00 L136.90,249.50 L141.90,243.50 L146.90,237.50 L151.90,230.50 L156.90,224.00 L161.80,219.70 L166.50,213.40 L172.10,205.40 L177.70,201.50 L182.40,199.10 L188.80,192.70 L195.20,187.20 L200.00,183.50 L205.00,180.80 L212.90,175.40 L216.90,175.80 L221.80,171.80 L226.80,170.40 L232.70,164.50 L239.70,161.10 L247.60,157.50 L252.60,157.90 L260.50,150.60 L262.50,150.00 L267.50,153.20 L276.40,142.10 L281.30,140.90 L287.30,137.30 L292.30,135.70 L299.20,132.30 L305.20,129.90 L312.50,124.70 L316.90,123.30 L322.70,118.20 L326.40,117.00 L332.20,112.30 L338.10,108.70 L342.40,106.80 L346.80,108.20 L356.30,101.40 L362.20,99.90 L367.30,105.00 L372.40,100.70 L376.80,101.10 L382.60,94.80 L387.00,92.20 L391.40,93.80 L397.90,89.20 L402.30,88.90 L409.60,87.00 L416.90,85.10 L424.20,84.10 L432.20,83.10 L438.80,80.40 L442.40,79.30 L446.80,79.00 L451.90,82.60 L457.00,79.00 L462.20,76.40 L467.30,77.50 L472.40,76.40 L477.50,77.20 L482.60,74.60 L487.00,73.90 L492.10,75.80 L495.30,73.40 L500.50,72.20 L507.50,72.50 L516.30,70.80 L525.00,71.60 L535.50,71.60 L542.60,69.90 L551.30,70.80 L560.00,69.00 L568.80,69.90 L581.00,68.70 L589.90,69.40 L601.40,69.00" fill="none" stroke="#670074" stroke-width="2.8" stroke-linejoin="round" stroke-linecap="square" />
<line x1="101.4" y1="70.4" x2="600.7" y2="70.4" stroke="#000" stroke-width="2.5" stroke-dasharray="8.5 3.77"/>
<rect x="76.4" y="50.2" width="551.0" height="410.1" fill="none" stroke="#000" stroke-width="1.4"/>
<line x1="627.0" y1="49.5" x2="627.0" y2="461.0" stroke="#000" stroke-width="2.1"/>
<line x1="70.80" y1="65.90" x2="76.4" y2="65.90" stroke="#000" stroke-width="1.4"/>
<g style="font-size:16.21px" fill="#000"><text transform="translate(46.27,72.00) scale(0.950,1)" x="-4.73">1</text><text transform="translate(53.43,72.00) scale(1.021,1)" x="-2.25">.</text><text transform="translate(60.73,72.00) scale(0.995,1)" x="-4.51">0</text></g>
<line x1="70.80" y1="133.40" x2="76.4" y2="133.40" stroke="#000" stroke-width="1.4"/>
<g style="font-size:16.21px" fill="#000"><text transform="translate(46.13,140.00) scale(0.995,1)" x="-4.51">0</text><text transform="translate(53.43,140.00) scale(1.021,1)" x="-2.25">.</text><text transform="translate(60.65,140.00) scale(0.939,1)" x="-4.49">5</text></g>
<line x1="70.80" y1="200.90" x2="76.4" y2="200.90" stroke="#000" stroke-width="1.4"/>
<g style="font-size:16.21px" fill="#000"><text transform="translate(46.13,207.00) scale(0.995,1)" x="-4.51">0</text><text transform="translate(53.43,207.00) scale(1.021,1)" x="-2.25">.</text><text transform="translate(60.73,207.00) scale(0.995,1)" x="-4.51">0</text></g>
<line x1="70.80" y1="268.40" x2="76.4" y2="268.40" stroke="#000" stroke-width="1.4"/>
<rect x="30.07" y="269.57" width="9.58" height="1.42" fill="#000"/>
<g style="font-size:16.21px" fill="#000"><text transform="translate(46.13,275.00) scale(0.995,1)" x="-4.51">0</text><text transform="translate(53.43,275.00) scale(1.021,1)" x="-2.25">.</text><text transform="translate(60.65,275.00) scale(0.939,1)" x="-4.49">5</text></g>
<line x1="70.80" y1="335.90" x2="76.4" y2="335.90" stroke="#000" stroke-width="1.4"/>
<rect x="30.07" y="336.57" width="9.58" height="1.42" fill="#000"/>
<g style="font-size:16.21px" fill="#000"><text transform="translate(46.27,342.00) scale(0.950,1)" x="-4.73">1</text><text transform="translate(53.43,342.00) scale(1.021,1)" x="-2.25">.</text><text transform="translate(60.73,342.00) scale(0.995,1)" x="-4.51">0</text></g>
<line x1="70.80" y1="403.40" x2="76.4" y2="403.40" stroke="#000" stroke-width="1.4"/>
<rect x="30.07" y="404.57" width="9.58" height="1.42" fill="#000"/>
<g style="font-size:16.21px" fill="#000"><text transform="translate(46.27,410.00) scale(0.950,1)" x="-4.73">1</text><text transform="translate(53.43,410.00) scale(1.021,1)" x="-2.25">.</text><text transform="translate(60.65,410.00) scale(0.939,1)" x="-4.49">5</text></g>
<line x1="627.4" y1="441.50" x2="633.00" y2="441.50" stroke="#000" stroke-width="1.4"/>
<g style="font-size:16.21px" fill="#000"><text transform="translate(643.06,448.00) scale(0.995,1)" x="-4.51">0</text><text transform="translate(650.36,448.00) scale(1.021,1)" x="-2.25">.</text><text transform="translate(657.66,448.00) scale(0.995,1)" x="-4.51">0</text></g>
<line x1="627.4" y1="366.48" x2="633.00" y2="366.48" stroke="#000" stroke-width="1.4"/>
<g style="font-size:16.21px" fill="#000"><text transform="translate(643.06,373.00) scale(0.995,1)" x="-4.51">0</text><text transform="translate(650.36,373.00) scale(1.021,1)" x="-2.25">.</text><text transform="translate(657.46,373.00) scale(0.959,1)" x="-4.51">2</text></g>
<line x1="627.4" y1="291.46" x2="633.00" y2="291.46" stroke="#000" stroke-width="1.4"/>
<g style="font-size:16.21px" fill="#000"><text transform="translate(643.06,298.00) scale(0.995,1)" x="-4.51">0</text><text transform="translate(650.36,298.00) scale(1.021,1)" x="-2.25">.</text><text transform="translate(657.61,298.00) scale(0.995,1)" x="-4.46">4</text></g>
<line x1="627.4" y1="216.44" x2="633.00" y2="216.44" stroke="#000" stroke-width="1.4"/>
<g style="font-size:16.21px" fill="#000"><text transform="translate(643.06,223.00) scale(0.995,1)" x="-4.51">0</text><text transform="translate(650.36,223.00) scale(1.021,1)" x="-2.25">.</text><text transform="translate(657.72,223.00) scale(1.030,1)" x="-4.56">6</text></g>
<line x1="627.4" y1="141.42" x2="633.00" y2="141.42" stroke="#000" stroke-width="1.4"/>
<g style="font-size:16.21px" fill="#000"><text transform="translate(643.06,148.00) scale(0.995,1)" x="-4.51">0</text><text transform="translate(650.36,148.00) scale(1.021,1)" x="-2.25">.</text><text transform="translate(657.66,148.00) scale(1.006,1)" x="-4.51">8</text></g>
<line x1="627.4" y1="66.40" x2="633.00" y2="66.40" stroke="#000" stroke-width="1.4"/>
<g style="font-size:16.21px" fill="#000"><text transform="translate(643.20,73.00) scale(0.950,1)" x="-4.73">1</text><text transform="translate(650.36,73.00) scale(1.021,1)" x="-2.25">.</text><text transform="translate(657.66,73.00) scale(0.995,1)" x="-4.51">0</text></g>
<line x1="101.90" y1="460.3" x2="101.90" y2="465.90" stroke="#000" stroke-width="1.4"/>
<g style="font-size:16.21px" fill="#000"><text transform="translate(101.90,482.60) scale(0.995,1)" x="-4.51">0</text></g>
<line x1="201.80" y1="460.3" x2="201.80" y2="465.90" stroke="#000" stroke-width="1.4"/>
<g style="font-size:16.21px" fill="#000"><text transform="translate(191.86,482.60) scale(0.959,1)" x="-4.51">2</text><text transform="translate(201.80,482.60) scale(0.995,1)" x="-4.51">0</text><text transform="translate(211.53,482.60) scale(0.995,1)" x="-4.51">0</text></g>
<line x1="301.70" y1="460.3" x2="301.70" y2="465.90" stroke="#000" stroke-width="1.4"/>
<g style="font-size:16.21px" fill="#000"><text transform="translate(291.91,482.60) scale(0.995,1)" x="-4.46">4</text><text transform="translate(301.70,482.60) scale(0.995,1)" x="-4.51">0</text><text transform="translate(311.43,482.60) scale(0.995,1)" x="-4.51">0</text></g>
<line x1="401.60" y1="460.3" x2="401.60" y2="465.90" stroke="#000" stroke-width="1.4"/>
<g style="font-size:16.21px" fill="#000"><text transform="translate(391.92,482.60) scale(1.030,1)" x="-4.56">6</text><text transform="translate(401.60,482.60) scale(0.995,1)" x="-4.51">0</text><text transform="translate(411.33,482.60) scale(0.995,1)" x="-4.51">0</text></g>
<line x1="501.50" y1="460.3" x2="501.50" y2="465.90" stroke="#000" stroke-width="1.4"/>
<g style="font-size:16.21px" fill="#000"><text transform="translate(491.76,482.60) scale(1.006,1)" x="-4.51">8</text><text transform="translate(501.50,482.60) scale(0.995,1)" x="-4.51">0</text><text transform="translate(511.23,482.60) scale(0.995,1)" x="-4.51">0</text></g>
<line x1="601.40" y1="460.3" x2="601.40" y2="465.90" stroke="#000" stroke-width="1.4"/>
<g style="font-size:16.21px" fill="#000"><text transform="translate(586.93,482.60) scale(0.950,1)" x="-4.73">1</text><text transform="translate(596.53,482.60) scale(0.995,1)" x="-4.51">0</text><text transform="translate(606.26,482.60) scale(0.995,1)" x="-4.51">0</text><text transform="translate(616.00,482.60) scale(0.995,1)" x="-4.51">0</text></g>
<g style="font-size:16.21px" fill="#000"><text transform="translate(321.71,504.30) scale(0.998,1)" x="-2.25">I</text><text transform="translate(326.99,504.30) scale(1.261,1)" x="-2.32">t</text><text transform="translate(334.68,504.30) scale(1.019,1)" x="-4.49">e</text><text transform="translate(343.22,504.30) scale(1.209,1)" x="-3.10">r</text><text transform="translate(350.12,504.30) scale(0.849,1)" x="-4.85">a</text><text transform="translate(358.06,504.30) scale(1.261,1)" x="-2.32">t</text><text transform="translate(363.17,504.30) scale(0.965,1)" x="-1.80">i</text><text transform="translate(369.98,504.30) scale(1.003,1)" x="-4.51">o</text><text transform="translate(379.55,504.30) scale(1.018,1)" x="-4.52">n</text></g>
<g style="font-size:16.23px" fill="#000"><text transform="translate(19.00,0) rotate(-90) translate(-310.69,0) scale(0.951,1)" x="-5.41">A</text><text transform="translate(19.00,0) rotate(-90) translate(-301.81,0) scale(1.018,1)" x="-4.06">v</text><text transform="translate(19.00,0) rotate(-90) translate(-292.55,0) scale(1.019,1)" x="-4.50">e</text><text transform="translate(19.00,0) rotate(-90) translate(-284.01,0) scale(1.209,1)" x="-3.11">r</text><text transform="translate(19.00,0) rotate(-90) translate(-277.10,0) scale(0.849,1)" x="-4.86">a</text><text transform="translate(19.00,0) rotate(-90) translate(-267.59,0) scale(1.026,1)" x="-4.33">g</text><text transform="translate(19.00,0) rotate(-90) translate(-257.73,0) scale(1.019,1)" x="-4.50">e</text><text transform="translate(19.00,0) rotate(-90) translate(-243.06,0) scale(0.818,1)" x="-5.73">E</text><text transform="translate(19.00,0) rotate(-90) translate(-233.59,0) scale(1.018,1)" x="-4.52">n</text><text transform="translate(19.00,0) rotate(-90) translate(-224.05,0) scale(1.019,1)" x="-4.50">e</text><text transform="translate(19.00,0) rotate(-90) translate(-215.51,0) scale(1.209,1)" x="-3.11">r</text><text transform="translate(19.00,0) rotate(-90) translate(-208.74,0) scale(1.026,1)" x="-4.33">g</text><text transform="translate(19.00,0) rotate(-90) translate(-199.08,0) scale(1.013,1)" x="-4.06">y</text></g>
<g style="font-size:16.38px" fill="#000"><text transform="translate(680.70,0) rotate(-90) translate(-277.76,0) scale(0.809,1)" x="-5.35">F</text><text transform="translate(680.70,0) rotate(-90) translate(-272.60,0) scale(0.965,1)" x="-1.82">i</text><text transform="translate(680.70,0) rotate(-90) translate(-265.83,0) scale(1.026,1)" x="-4.37">d</text><text transform="translate(680.70,0) rotate(-90) translate(-255.88,0) scale(1.019,1)" x="-4.54">e</text><text transform="translate(680.70,0) rotate(-90) translate(-248.98,0) scale(0.965,1)" x="-1.82">l</text><text transform="translate(680.70,0) rotate(-90) translate(-244.69,0) scale(0.965,1)" x="-1.82">i</text><text transform="translate(680.70,0) rotate(-90) translate(-239.49,0) scale(1.261,1)" x="-2.34">t</text><text transform="translate(680.70,0) rotate(-90) translate(-231.91,0) scale(1.013,1)" x="-4.10">y</text></g>
</svg>
</body></html>
